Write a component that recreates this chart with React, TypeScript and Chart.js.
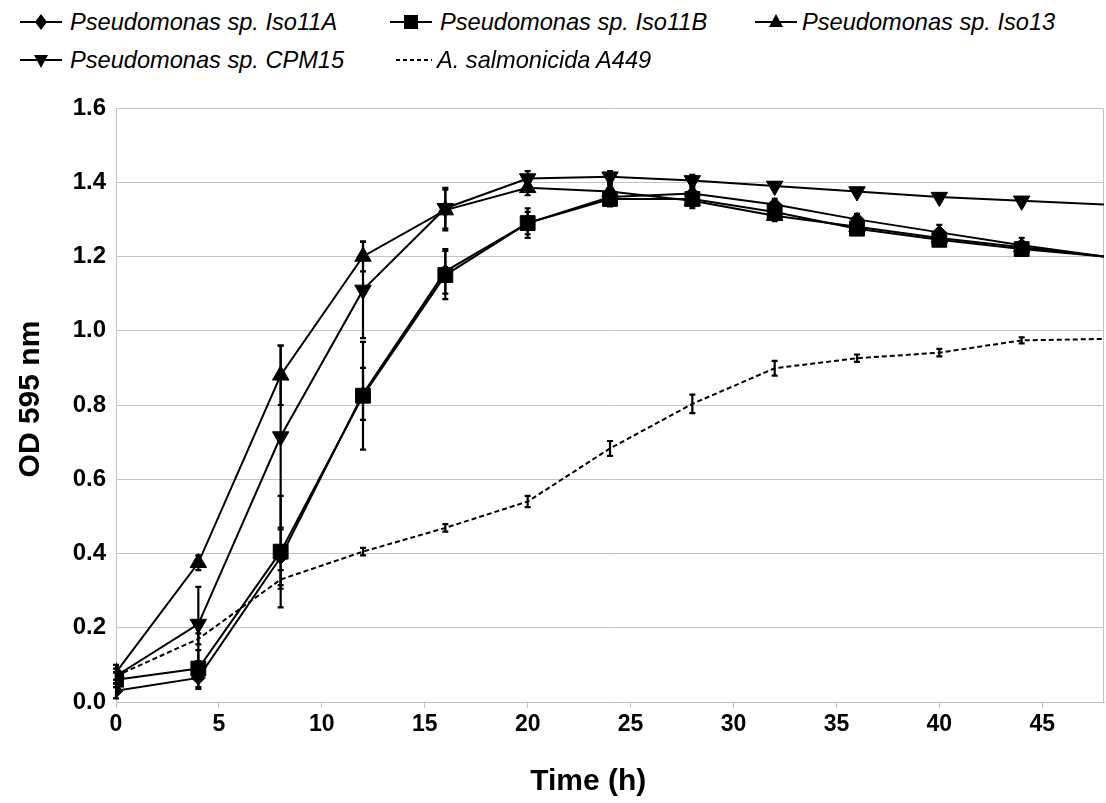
import React, { useEffect, useRef } from 'react';
import { Chart, registerables } from 'chart.js';

Chart.register(...registerables);

// ---------- data ----------
const times = [0, 4, 8, 12, 16, 20, 24, 28, 32, 36, 40, 44, 48];

const iso11A = [0.03, 0.065, 0.39, 0.83, 1.16, 1.29, 1.36, 1.37, 1.34, 1.3, 1.265, 1.23, 1.2];
const iso11AErr = [0.02, 0.03, 0.075, 0.07, 0.06, 0.03, 0.015, 0.015, 0.015, 0.015, 0.02, 0.02, 0];

const iso11B = [0.06, 0.09, 0.405, 0.825, 1.15, 1.29, 1.355, 1.355, 1.32, 1.275, 1.245, 1.22, 1.2];
const iso11BErr = [0.02, 0.05, 0.15, 0.145, 0.065, 0.04, 0.02, 0.02, 0.02, 0.015, 0.015, 0.015, 0];

const iso13 = [0.08, 0.375, 0.88, 1.2, 1.325, 1.385, 1.375, 1.35, 1.31, 1.28, 1.25, 1.225, 1.2];
const iso13Err = [0.02, 0.02, 0.08, 0.04, 0.055, 0.02, 0.02, 0.02, 0.015, 0.015, 0.015, 0.015, 0];

const cpm15 = [0.07, 0.21, 0.715, 1.11, 1.33, 1.41, 1.415, 1.405, 1.39, 1.375, 1.36, 1.35, 1.34];
const cpm15Err = [0.02, 0.1, 0.245, 0.13, 0.055, 0.02, 0.015, 0.015, 0.01, 0.01, 0.01, 0.01, 0];

const a449 = [0.07, 0.17, 0.33, 0.405, 0.469, 0.54, 0.683, 0.803, 0.899, 0.926, 0.941, 0.974, 0.978];
const a449Err = [0.01, 0.015, 0.025, 0.01, 0.01, 0.015, 0.02, 0.025, 0.02, 0.01, 0.01, 0.008, 0];

const seriesLabels = [
  'Pseudomonas sp. Iso11A',
  'Pseudomonas sp. Iso11B',
  'Pseudomonas sp. Iso13',
  'Pseudomonas sp. CPM15',
  'A. salmonicida A449',
];

const xTickValues = [0, 5, 10, 15, 20, 25, 30, 35, 40, 45];
const xTitle = 'Time (h)';
const yTitle = 'OD 595 nm';

// ---------- styles ----------
const FONT = "'Liberation Sans', Arial, sans-serif";
const GRID = '#c3c3c3';

type SeriesStyle = { style: any; radius: number; rotation: number; dash: number[] };
const styles: SeriesStyle[] = [
  { style: 'rectRot', radius: 7, rotation: 0, dash: [] },
  { style: 'rect', radius: 10.5, rotation: 0, dash: [] },
  { style: 'triangle', radius: 9.5, rotation: 0, dash: [] },
  { style: 'triangle', radius: 9.5, rotation: 180, dash: [] },
  { style: false, radius: 0, rotation: 0, dash: [5, 3] },
];

const errorBarPlugin = {
  id: 'errorBars',
  afterDatasetsDraw(chart: any) {
    const { ctx, scales } = chart;
    const x = scales.x;
    const y = scales.y;
    chart.data.datasets.forEach((ds: any) => {
      const errs: number[] = ds.errors;
      if (!errs) return;
      ctx.save();
      ctx.strokeStyle = '#000';
      ctx.lineWidth = 2.2;
      ctx.setLineDash([]);
      ds.data.forEach((pt: any, j: number) => {
        const e = errs[j];
        if (!e) return;
        const px = x.getPixelForValue(pt.x);
        const top = y.getPixelForValue(pt.y + e);
        const bot = y.getPixelForValue(pt.y - e);
        ctx.beginPath();
        ctx.moveTo(px, top);
        ctx.lineTo(px, bot);
        ctx.moveTo(px - 3, top);
        ctx.lineTo(px + 3, top);
        ctx.moveTo(px - 3, bot);
        ctx.lineTo(px + 3, bot);
        ctx.stroke();
      });
      ctx.restore();
    });
  },
};

const framePlugin = {
  id: 'frame',
  beforeDatasetsDraw(chart: any) {
    const { ctx, chartArea } = chart;
    ctx.save();
    ctx.strokeStyle = GRID;
    ctx.lineWidth = 1;
    ctx.beginPath();
    ctx.moveTo(Math.round(chartArea.right) - 0.5, chartArea.top);
    ctx.lineTo(Math.round(chartArea.right) - 0.5, chartArea.bottom);
    ctx.stroke();
    ctx.restore();
  },
};

const titlesPlugin = {
  id: 'axisTitles',
  afterDraw(chart: any) {
    const { ctx, chartArea } = chart;
    ctx.save();
    ctx.fillStyle = '#000';
    ctx.textAlign = 'center';
    ctx.textBaseline = 'middle';
    ctx.font = `bold 30px ${FONT}`;
    ctx.fillText(xTitle, chartArea.left + (chartArea.right - chartArea.left) * 0.478, chartArea.bottom + 80);
    ctx.translate(31, chartArea.top + (chartArea.bottom - chartArea.top) * 0.49);
    ctx.rotate(-Math.PI / 2);
    ctx.font = `bold 30px ${FONT}`;
    ctx.fillText(yTitle, 0, 0);
    ctx.restore();
  },
};

function LegendSymbol({ index }: { index: number }) {
  const ref = useRef<HTMLCanvasElement | null>(null);
  useEffect(() => {
    const c = ref.current;
    if (!c) return;
    const ctx = c.getContext('2d')!;
    ctx.clearRect(0, 0, c.width, c.height);
    ctx.strokeStyle = '#000';
    ctx.fillStyle = '#000';
    ctx.lineWidth = 2;
    const cy = 11;
    if (index === 4) {
      ctx.setLineDash([4, 3]);
      ctx.beginPath();
      ctx.moveTo(1, cy);
      ctx.lineTo(37, cy);
      ctx.stroke();
      return;
    }
    ctx.beginPath();
    ctx.moveTo(0, cy);
    ctx.lineTo(42, cy);
    ctx.stroke();
    const cx = 21;
    ctx.beginPath();
    if (index === 0) {
      ctx.moveTo(cx, cy - 8);
      ctx.lineTo(cx + 6, cy);
      ctx.lineTo(cx, cy + 8);
      ctx.lineTo(cx - 6, cy);
    } else if (index === 1) {
      ctx.rect(cx - 7, cy - 7, 14, 14);
    } else if (index === 2) {
      ctx.moveTo(cx, cy - 8);
      ctx.lineTo(cx + 7, cy + 5);
      ctx.lineTo(cx - 7, cy + 5);
    } else {
      ctx.moveTo(cx, cy + 8);
      ctx.lineTo(cx + 7, cy - 5);
      ctx.lineTo(cx - 7, cy - 5);
    }
    ctx.closePath();
    ctx.fill();
  }, [index]);
  return <canvas ref={ref} width={44} height={22} style={{ display: 'block' }} />;
}

const legendPos = [
  { sx: 20, tx: 70, y: 22 },
  { sx: 390, tx: 440, y: 22 },
  { sx: 755, tx: 802, y: 22 },
  { sx: 20, tx: 70, y: 60 },
  { sx: 395, tx: 437, y: 60 },
];

export default function App() {
  const canvasRef = useRef<HTMLCanvasElement | null>(null);

  useEffect(() => {
    const canvas = canvasRef.current;
    if (!canvas) return;
    const values = [iso11A, iso11B, iso13, cpm15, a449];
    const errs = [iso11AErr, iso11BErr, iso13Err, cpm15Err, a449Err];
    const datasets = values.map((vals, i) => {
      const s = styles[i];
      return {
        label: seriesLabels[i],
        data: times.map((t, j) => ({ x: t, y: vals[j] })),
        errors: errs[i],
        borderColor: '#000',
        backgroundColor: '#000',
        borderWidth: 2,
        borderDash: s.dash,
        tension: 0,
        pointStyle: s.style,
        pointRadius: times.map((t, j) => (j === times.length - 1 ? 0 : s.radius)),
        pointRotation: s.rotation,
        pointBorderWidth: 1,
        pointBackgroundColor: '#000',
        pointBorderColor: '#000',
        fill: false,
      };
    });

    const chart = new Chart(canvas, {
      type: 'line',
      data: { datasets } as any,
      options: {
        animation: false,
        responsive: false,
        devicePixelRatio: 1,
        layout: { autoPadding: false, padding: { top: 18, right: 2, left: 0, bottom: 0 } },
        plugins: {
          legend: { display: false },
          tooltip: { enabled: false },
        },
        scales: {
          x: {
            type: 'linear',
            min: 0,
            max: 48,
            afterFit: (scale: any) => {
              scale.height = 101;
              scale.paddingLeft = 0;
              scale.paddingRight = 0;
              scale.paddingTop = 0;
              scale.paddingBottom = 0;
            },
            afterBuildTicks: (scale: any) => {
              scale.ticks = xTickValues.map((v) => ({ value: v }));
            },
            grid: {
              drawOnChartArea: false,
              drawTicks: true,
              tickLength: 6,
              color: GRID,
            },
            border: { color: GRID, width: 1 },
            ticks: {
              color: '#000',
              padding: 3,
              font: { family: FONT, size: 23, weight: 'bold' },
            },
          },
          y: {
            type: 'linear',
            min: 0,
            max: 1.6,
            afterFit: (scale: any) => {
              scale.width = 116;
              scale.paddingLeft = 0;
              scale.paddingRight = 0;
              scale.paddingTop = 0;
              scale.paddingBottom = 0;
            },
            grid: { color: GRID, drawTicks: false, lineWidth: 1 },
            border: { color: GRID, width: 1 },
            ticks: {
              stepSize: 0.2,
              color: '#000',
              padding: 10,
              font: { family: FONT, size: 24, weight: 'bold' },
              callback: (v: any) => Number(v).toFixed(1),
            },
          },
        },
      } as any,
      plugins: [framePlugin, errorBarPlugin, titlesPlugin],
    });
    return () => chart.destroy();
  }, []);

  return (
    <div
      style={{
        position: 'fixed',
        left: 0,
        top: 0,
        width: 1106,
        height: 803,
        background: '#fff',
        overflow: 'hidden',
      }}
    >
      {seriesLabels.map((lab, i) => (
        <React.Fragment key={lab}>
          <div style={{ position: 'absolute', left: legendPos[i].sx, top: legendPos[i].y - 11 }}>
            <LegendSymbol index={i} />
          </div>
          <div
            style={{
              position: 'absolute',
              left: legendPos[i].tx,
              top: legendPos[i].y - 14,
              height: 28,
              lineHeight: '28px',
              fontFamily: FONT,
              fontStyle: 'italic',
              fontSize: 23.6,
              color: '#000',
              whiteSpace: 'nowrap',
            }}
          >
            {lab}
          </div>
        </React.Fragment>
      ))}
      <canvas
        ref={canvasRef}
        width={1106}
        height={713}
        style={{ position: 'absolute', left: 0, top: 90, width: 1106, height: 713 }}
      />
    </div>
  );
}
